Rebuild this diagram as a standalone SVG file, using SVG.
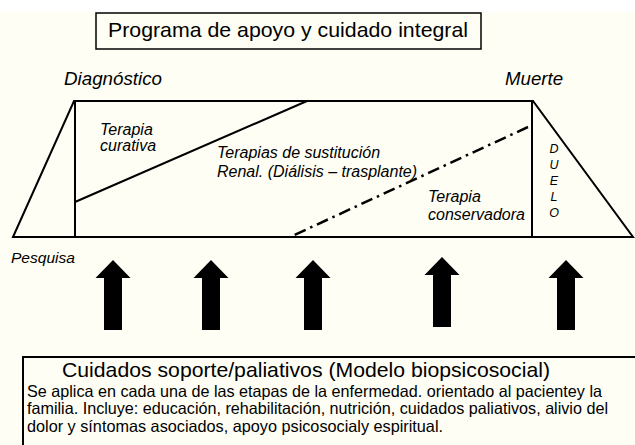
<svg xmlns="http://www.w3.org/2000/svg" width="635" height="445" viewBox="0 0 635 445">
<style>
.ln{fill:none;stroke:#000;stroke-width:2;stroke-linejoin:miter}
.t{font-family:"Liberation Sans",Arial,sans-serif;fill:#000}
.i{font-style:italic}
.arr{fill:#000}
</style>
<defs>
<path id="arrow" d="M0,0 L17.5,18 L9,18 L9,70 L-9,70 L-9,18 L-17.5,18 Z"/>
</defs>
<rect x="0" y="0" width="635" height="445" fill="#FEFEF4"/>
<rect x="0" y="0" width="635" height="12" fill="#FFFFFF"/>

<g id="title">
<rect x="96" y="13" width="385" height="36" fill="#FEFEF4" stroke="#000" stroke-width="1.5"/>
<text class="t" x="108" y="37" font-size="21" textLength="360" lengthAdjust="spacingAndGlyphs">Programa de apoyo y cuidado integral</text>
</g>

<g id="timeline">
<polygon class="ln" points="13,237 74,101 533,101 633,237"/>
<line class="ln" x1="75" y1="101" x2="75" y2="237"/>
<line class="ln" x1="532" y1="101" x2="532" y2="237"/>
<line class="ln" x1="75" y1="202" x2="307" y2="101"/>
<line fill="none" stroke="#000" stroke-width="2.5" stroke-dasharray="12 5 2.5 5" x1="528" y1="127" x2="290" y2="237"/>
</g>

<g id="labels">
<text class="t i" x="64" y="85" font-size="18.5" textLength="98" lengthAdjust="spacingAndGlyphs">Diagnóstico</text>
<text class="t i" x="505" y="85" font-size="18.5" textLength="58" lengthAdjust="spacingAndGlyphs">Muerte</text>
<text class="t i" x="11" y="263" font-size="15" textLength="64" lengthAdjust="spacingAndGlyphs">Pesquisa</text>
</g>

<g id="curativa">
<text class="t i" font-size="16"><tspan x="100" y="135">Terapia</tspan><tspan x="100" y="151">curativa</tspan></text>
</g>

<g id="sustitucion">
<text class="t i" font-size="16"><tspan x="217" y="158">Terapias de sustitución</tspan><tspan x="217" y="177">Renal. (Diálisis – trasplante)</tspan></text>
</g>

<g id="conservadora">
<text class="t i" font-size="16"><tspan x="428" y="202">Terapia</tspan><tspan x="428" y="220">conservadora</tspan></text>
</g>

<g id="duelo">
<text class="t i" font-size="12.5" text-anchor="middle"><tspan x="554" y="153">D</tspan><tspan x="554" y="169">U</tspan><tspan x="554" y="185">E</tspan><tspan x="554" y="201">L</tspan><tspan x="554" y="217">O</tspan></text>
</g>

<g id="connectors">
<use href="#arrow" class="arr" x="113" y="260"/>
<use href="#arrow" class="arr" x="211" y="260"/>
<use href="#arrow" class="arr" x="313" y="260"/>
<use href="#arrow" class="arr" x="442" y="257"/>
<use href="#arrow" class="arr" x="566" y="260"/>
</g>

<g id="support">
<rect x="23" y="357" width="700" height="200" fill="#FEFEF4" stroke="#000" stroke-width="2"/>
<text class="t" x="62" y="377" font-size="21" textLength="488" lengthAdjust="spacingAndGlyphs">Cuidados soporte/paliativos (Modelo biopsicosocial)</text>
<text class="t" x="27" y="397" font-size="16.5" textLength="575" lengthAdjust="spacingAndGlyphs">Se aplica en cada una de las etapas de la enfermedad. orientado al pacientey la</text>
<text class="t" x="27" y="414" font-size="16.5" textLength="581" lengthAdjust="spacingAndGlyphs">familia. Incluye: educación, rehabilitación, nutrición, cuidados paliativos, alivio del</text>
<text class="t" x="27" y="432" font-size="16.5" textLength="416" lengthAdjust="spacingAndGlyphs">dolor y síntomas asociados, apoyo psicosocialy espiritual.</text>
</g>
</svg>
